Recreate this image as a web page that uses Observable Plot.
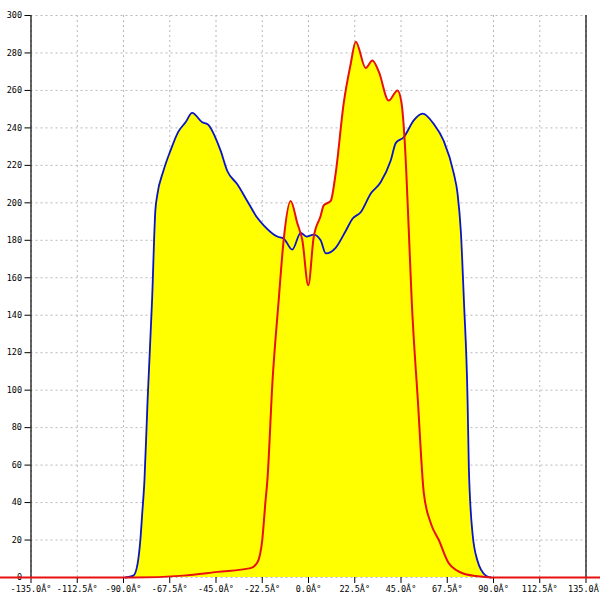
<!DOCTYPE html>
<html>
<head>
<meta charset="utf-8">
<script src="https://cdn.jsdelivr.net/npm/d3@7"></script>
<script src="https://cdn.jsdelivr.net/npm/@observablehq/plot@0.6"></script>
<style>
  html, body { margin: 0; padding: 0; background: #fff; }
</style>
</head>
<body>
<div id="chart"></div>
<script>
// Angle (degrees) and intensity for the blue series
const blueAngle = [-89.1, -85.2, -83.2, -81.8, -80.9, -79.8, -78.3, -76.1, -74.5, -73.6, -70.6, -67.1, -63.3, -59.8, -56.6, -51.7, -49.1, -42.8, -39.5, -34.7, -29.8, -24.9, -21.8, -15.2, -12.1, -7.9, -3.8, -1.0, 2.5, 5.9, 8.4, 13.2, 18.1, 21.4, 25.4, 30.3, 35.1, 40.0, 42.5, 46.3, 51.2, 55.5, 61.0, 65.8, 70.7, 72.5, 74.1, 75.6, 77.4, 78.0, 79.8, 82.2, 86.3, 88.7];
const blueValue = [0, 1, 7, 20, 34, 52, 94, 148, 196, 204, 217, 228, 238, 243, 248, 243, 242, 228, 217, 210, 201, 192, 188, 182, 181, 175, 184, 182, 183, 180, 173, 176, 185, 191.5, 195, 205, 211, 222.6, 232, 235, 244, 247.6, 242, 233, 215.6, 205, 185, 148, 94, 59, 23.5, 9, 1, 0];

// Angle (degrees) and intensity for the red series
const redAngle = [-150, -85.2, -60.8, -44.3, -28.2, -24.9, -22.5, -20.9, -20.0, -17.5, -14.5, -12.1, -8.7, -5.4, -3.0, -0.1, 2.5, 5.9, 7.4, 10.8, 13.2, 17.1, 20.5, 23.0, 27.8, 31.1, 34.2, 39.0, 43.3, 45.2, 46.8, 48.8, 50.2, 53.2, 56.1, 59.5, 63.4, 68.3, 75.6, 83.9, 90, 155];
const redValue = [0, 0, 1, 3, 5, 8, 20, 41, 52, 105, 148, 180, 201, 189, 180, 156, 181.5, 193, 198.6, 201, 215.6, 253, 274, 286, 272, 276, 270, 254.6, 260, 253.7, 233, 185, 148, 94.5, 45, 29, 20, 7.5, 2, 0.5, 0, 0];

// Tick values
const xTicks = [-135, -112.5, -90, -67.5, -45, -22.5, 0, 22.5, 45, 67.5, 90, 112.5, 135];
const yTicks = [0, 20, 40, 60, 80, 100, 120, 140, 160, 180, 200, 220, 240, 260, 280, 300];

const blue = blueAngle.map((a, i) => ({angle: a, value: blueValue[i]}));
const red = redAngle.map((a, i) => ({angle: a, value: redValue[i]}));

const font = "'DejaVu Sans Mono', monospace";

const chart = Plot.plot({
  width: 600,
  height: 600,
  marginLeft: 30.5,
  marginRight: 14.5,
  marginTop: 15,
  marginBottom: 23,
  style: {fontFamily: font, fontSize: "8.5px", color: "#000", background: "#fff"},
  x: {domain: [-135, 135], label: null},
  y: {domain: [0, 300], label: null},
  marks: [
    Plot.gridX(xTicks, {stroke: "#b8b8b8", strokeOpacity: 1, strokeDasharray: "2,3"}),
    Plot.gridY(yTicks, {stroke: "#b8b8b8", strokeOpacity: 1, strokeDasharray: "2,3"}),
    Plot.areaY(blue, {x: "angle", y: "value", fill: "#ffff00", curve: "monotone-x"}),
    Plot.areaY(red, {x: "angle", y: "value", fill: "#ffff00", curve: "monotone-x"}),
    Plot.ruleX([-135, 135], {y1: 0, y2: 300, stroke: "#000", strokeWidth: 1.2}),
    Plot.axisX(xTicks, {tickSize: 6, tickPadding: 2, label: null, tickFormat: d => d.toFixed(1) + "Â°", fontSize: 8.5, fill: "#000", stroke: "#000"}),
    Plot.axisY(yTicks, {tickSize: 6, tickPadding: 3, label: null, fontSize: 8.5, fill: "#000", stroke: "#000"}),
    Plot.line(blue, {x: "angle", y: "value", stroke: "#0a14c8", strokeWidth: 1.8, curve: "monotone-x"}),
    Plot.line(red, {x: "angle", y: "value", stroke: "#e81010", strokeWidth: 2, curve: "monotone-x"})
  ]
});

document.getElementById("chart").appendChild(chart);
</script>
</body>
</html>
